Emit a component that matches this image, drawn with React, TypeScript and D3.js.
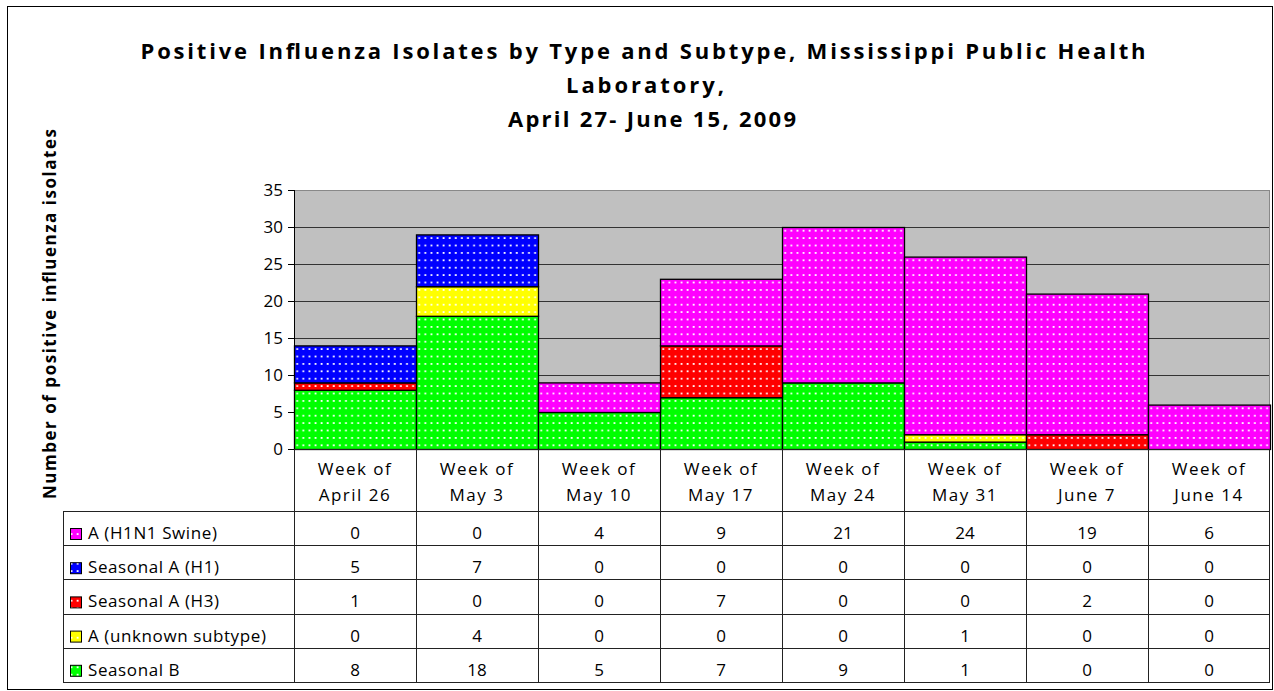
import * as d3 from 'd3';
import React from 'react';

const weeks = ['April 26', 'May 3', 'May 10', 'May 17', 'May 24', 'May 31', 'June 7', 'June 14'];

// stacking order, bottom to top
const seriesNames = ['Seasonal B', 'A (unknown subtype)', 'Seasonal A (H3)', 'Seasonal A (H1)', 'A (H1N1 Swine)'];
const seriesColors = ['#00ff00', '#ffff00', '#ff0000', '#0000ff', '#ff00ff'];

const seasonalB = [8, 18, 5, 7, 9, 1, 0, 0];
const unknownA = [0, 4, 0, 0, 0, 1, 0, 0];
const seasonalH3 = [1, 0, 0, 7, 0, 0, 2, 0];
const seasonalH1 = [5, 7, 0, 0, 0, 0, 0, 0];
const swineH1N1 = [0, 0, 4, 9, 21, 24, 19, 6];

const yTicks = [0, 5, 10, 15, 20, 25, 30, 35];

const titleLines = [
  'Positive Influenza Isolates by Type and Subtype, Mississippi Public Health',
  'Laboratory,',
  'April 27- June 15, 2009',
];

const W = 1274;
const H = 691;
const margin = { left: 294, right: 1270, top: 190, bottom: 449 };
const tableLeft = 63;
const rowH = 34.2;

const App: React.FC = () => {
  const values = [seasonalB, unknownA, seasonalH3, seasonalH1, swineH1N1];
  const rows = weeks.map((w, i) => {
    const r: Record<string, any> = { week: w };
    seriesNames.forEach((s, j) => (r[s] = values[j][i]));
    return r;
  });
  const stacked = d3.stack<any>().keys(seriesNames)(rows);

  const x = d3.scaleBand().domain(weeks).range([margin.left, margin.right]).padding(0);
  const y = d3.scaleLinear().domain([0, 35]).range([margin.bottom, margin.top]);

  // table rows top to bottom: reverse of stack order
  const tableOrder = seriesNames.map((_, j) => j).reverse();
  const headerTop = margin.bottom;
  const headerBottom = 511;
  const tableBottom = headerBottom + rowH * tableOrder.length;

  const font = "'Open Sans', 'DejaVu Sans', sans-serif";

  return (
    <svg width={W} height={H} style={{ position: 'absolute', left: 0, top: 0, display: 'block' }} fontFamily={font}>
      <defs>
        {seriesColors.map((c, j) => (
          <pattern key={j} id={`dots${j}`} patternUnits="userSpaceOnUse" width={6.1} height={7.4} x={margin.left} y={margin.bottom}>
            <rect width={6.1} height={7.4} fill={c} />
            <rect x={2.3} y={2.8} width={1.8} height={1.8} fill="#ffffff" />
          </pattern>
        ))}
      </defs>
      <rect x={0} y={0} width={W} height={H} fill="#ffffff" />
      <rect x={7.5} y={6.5} width={1265} height={683} fill="none" stroke="#000" strokeWidth={1} />

      {/* title */}
      <text textAnchor="middle" fontWeight="bold" fontSize={22} fill="#000">
        <tspan x={643} y={59} textLength={1005} lengthAdjust="spacing">{titleLines[0]}</tspan>
        <tspan x={645} y={93} textLength={158} lengthAdjust="spacing">{titleLines[1]}</tspan>
        <tspan x={652} y={127} textLength={288} lengthAdjust="spacing">{titleLines[2]}</tspan>
      </text>

      {/* y axis title */}
      <text
        transform={`translate(56,314) rotate(-90)`}
        textAnchor="middle"
        fontWeight="bold"
        fontSize={17}
        textLength={370}
        lengthAdjust="spacing"
        fill="#000"
      >
        Number of positive influenza isolates
      </text>

      {/* plot area */}
      <rect x={margin.left} y={margin.top} width={margin.right - margin.left} height={margin.bottom - margin.top} fill="#c0c0c0" />
      {yTicks.filter(t => t > 0).map(t => (
        <line key={t} x1={margin.left} x2={margin.right} y1={y(t) + 0.5} y2={y(t) + 0.5} stroke={t === 35 ? '#888' : '#333'} strokeWidth={1} />
      ))}
      <line x1={margin.right - 0.5} x2={margin.right - 0.5} y1={margin.top} y2={margin.bottom} stroke="#888" />

      {/* bars */}
      {stacked.map((layer, j) =>
        layer.map((d, i) =>
          d[1] - d[0] > 0 ? (
            <rect
              key={`${j}-${i}`}
              x={x(weeks[i])! + 0.5}
              y={y(d[1]) + 0.5}
              width={x.bandwidth()}
              height={y(d[0]) - y(d[1])}
              fill={`url(#dots${j})`}
              stroke="#000"
              strokeWidth={1.3}
            />
          ) : null
        )
      )}

      {/* y axis */}
      <line x1={margin.left + 0.5} x2={margin.left + 0.5} y1={margin.top} y2={margin.bottom} stroke="#000" />
      {yTicks.map(t => (
        <g key={t}>
          <line x1={margin.left - 6} x2={margin.left} y1={y(t) + 0.5} y2={y(t) + 0.5} stroke="#000" />
          <text x={283} y={y(t) + 6} textAnchor="end" fontSize={17} fill="#000">{t}</text>
        </g>
      ))}

      {/* data table */}
      <g stroke="#222" strokeWidth={1} fill="none">
        <line x1={margin.left} x2={margin.right} y1={headerTop + 0.5} y2={headerTop + 0.5} />
        {d3.range(tableOrder.length + 1).map(k => (
          <line key={k} x1={tableLeft} x2={margin.right} y1={Math.round(headerBottom + k * rowH) + 0.5} y2={Math.round(headerBottom + k * rowH) + 0.5} />
        ))}
        <line x1={tableLeft + 0.5} x2={tableLeft + 0.5} y1={headerBottom} y2={Math.round(tableBottom) + 1} />
        {weeks.map(w => (
          <line key={w} x1={x(w)! + 0.5} x2={x(w)! + 0.5} y1={headerTop} y2={Math.round(tableBottom) + 1} />
        ))}
        <line x1={margin.right - 0.5} x2={margin.right - 0.5} y1={headerTop} y2={Math.round(tableBottom) + 1} />
      </g>
      {weeks.map(w => (
        <text key={w} textAnchor="middle" fontSize={17} letterSpacing={1.5} fill="#000">
          <tspan x={x(w)! + x.bandwidth() / 2} y={475}>Week of</tspan>
          <tspan x={x(w)! + x.bandwidth() / 2} y={501}>{w}</tspan>
        </text>
      ))}
      {tableOrder.map((j, k) => {
        const top = headerBottom + k * rowH;
        return (
          <g key={j}>
            <rect x={70.5} y={top + 17.5} width={11} height={11} fill={`url(#dots${j})`} stroke="#000" strokeWidth={1} />
            <text x={88} y={top + 28} fontSize={17} letterSpacing={0.6} fill="#000">{seriesNames[j]}</text>
            {weeks.map((w, i) => (
              <text key={w} x={x(w)! + x.bandwidth() / 2} y={top + 28} textAnchor="middle" fontSize={17} fill="#000">
                {values[j][i]}
              </text>
            ))}
          </g>
        );
      })}
    </svg>
  );
};

export default App;
